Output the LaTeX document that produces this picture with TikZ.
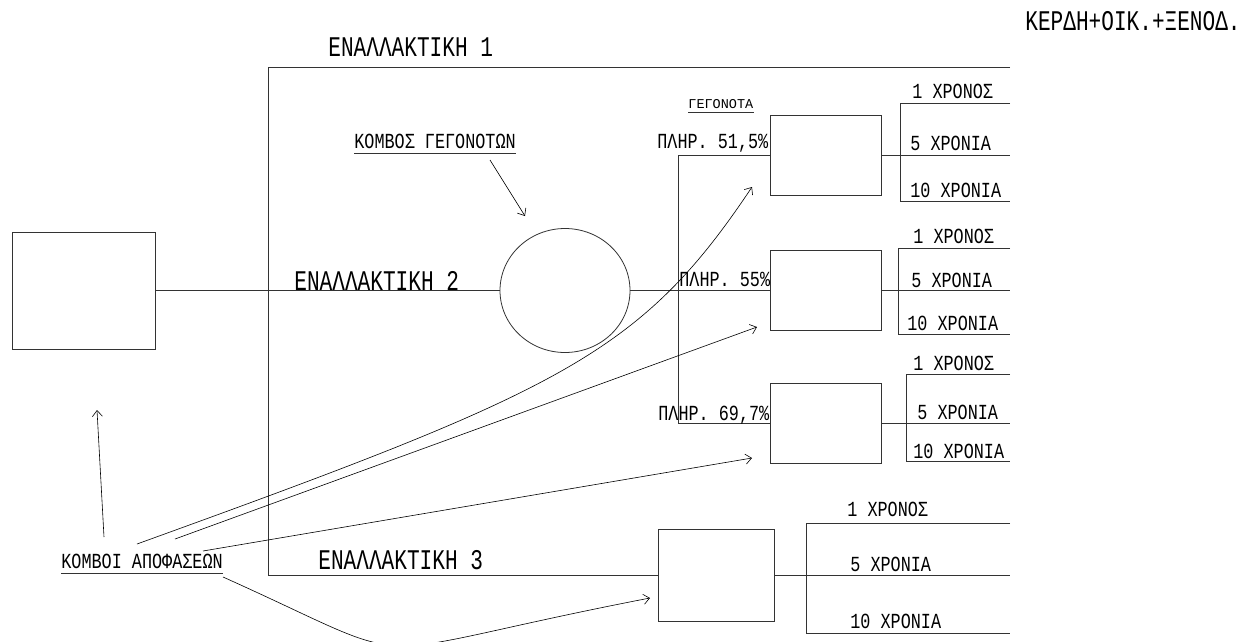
\documentclass[tikz,border=0pt]{standalone}
\usepackage{fontspec}
\setmainfont{Liberation Mono}
\usepackage{graphicx}
\usetikzlibrary{shapes.geometric,arrows.meta}
\newcommand{\tallB}[1]{\scalebox{1}[1.35]{\fontsize{21.1}{24}\selectfont #1}}
\newcommand{\tallM}[1]{\scalebox{1}[1.28]{\fontsize{16.8}{20}\selectfont #1}}
\begin{document}
\begin{tikzpicture}[x=1pt,y=-1pt,line width=0.8pt,
  box/.style={draw=black!80,rectangle,inner sep=0pt},
  lbl/.style={inner sep=0pt,anchor=base west},
  ln/.style={draw=black!80,line width=0.8pt},
  arr/.style={-{Straight Barb[length=6pt,width=10pt]},line width=0.6pt,black}]
\useasboundingbox (0,0) rectangle (1254,641);
% nodes
\node[box,minimum width=143pt,minimum height=117pt] (dec) at (83.5,290.5) {};
\node[draw=black!80,ellipse,inner sep=0pt,minimum width=130pt,minimum height=124pt] (ev) at (565,290.5) {};
\node[box,minimum width=111pt,minimum height=80pt] (b1) at (825.5,155) {};
\node[box,minimum width=111pt,minimum height=80pt] (b2) at (825.5,290.5) {};
\node[box,minimum width=111pt,minimum height=80pt] (b3) at (825.5,423) {};
\node[box,minimum width=116pt,minimum height=92pt] (b4) at (716,575) {};
% structural lines
\draw[ln] (dec.east) -- (ev.west);
\draw[ln] (ev.east) -- (b2.west);
\coordinate (fk) at (678,0);
\draw[ln] (b1.west) -- (b1.west -| fk) -- (b3.west -| fk) -- (b3.west);
\coordinate (a1) at (1010,67);
\coordinate (a0) at (268,67);
\draw[ln] (a1) -- (a0) -- (b4.west -| a0) -- (b4.west);
\foreach \b/\x/\t/\u in {b1/900/103/201, b2/898/248/334, b3/906/374/461, b4/806/523/633}{
  \draw[ln] (\b.east) -- (1010,0 |- \b.east);
  \draw[ln] (1010,\t) -- (\x,\t) -- (\x,\u) -- (1010,\u);
}
% labels
\node[lbl] (alt1) at (328,56) {\tallB{ΕΝΑΛΛΑΚΤΙΚΗ 1}};
\node[lbl] (alt2) at (294,290) {\tallB{ΕΝΑΛΛΑΚΤΙΚΗ 2}};
\node[lbl] (alt3) at (318,569) {\tallB{ΕΝΑΛΛΑΚΤΙΚΗ 3}};
\node[lbl] (hdr) at (1025,30) {\tallB{ΚΕΡΔΗ+ΟΙΚ.+ΞΕΝΟΔ.}};
\node[lbl] (kg) at (354,148) {\tallM{ΚΟΜΒΟΣ ΓΕΓΟΝΟΤΩΝ}};
\node[lbl] (ka) at (61,568) {\tallM{ΚΟΜΒΟΙ ΑΠΟΦΑΣΕΩΝ}};
\node[lbl,font=\fontsize{13.5}{15}\selectfont] (gg) at (688,108) {ΓΕΓΟΝΟΤΑ};
\draw[ln] ([yshift=-5.3pt]kg.base west) -- ([yshift=-5.3pt]kg.base east);
\draw[ln] ([yshift=-5.3pt]ka.base west) -- ([yshift=-5.3pt]ka.base east);
\draw[ln] ([yshift=-4.3pt]gg.base west) -- ([yshift=-4.3pt]gg.base east);
\node[lbl] (p1) at (657,148) {\tallM{ΠΛΗΡ. 51,5\%}};
\node[lbl] (p2) at (679,286) {\tallM{ΠΛΗΡ. 55\%}};
\node[lbl] (p3) at (658,420) {\tallM{ΠΛΗΡ. 69,7\%}};
\node[lbl] (o11) at (912,98) {\tallM{1 ΧΡΟΝΟΣ}};
\node[lbl] (o12) at (910,150.5) {\tallM{5 ΧΡΟΝΙΑ}};
\node[lbl] (o13) at (910,197) {\tallM{10 ΧΡΟΝΙΑ}};
\node[lbl] (o21) at (913,243) {\tallM{1 ΧΡΟΝΟΣ}};
\node[lbl] (o22) at (911,287) {\tallM{5 ΧΡΟΝΙΑ}};
\node[lbl] (o23) at (907,330) {\tallM{10 ΧΡΟΝΙΑ}};
\node[lbl] (o31) at (913,370) {\tallM{1 ΧΡΟΝΟΣ}};
\node[lbl] (o32) at (917,419) {\tallM{5 ΧΡΟΝΙΑ}};
\node[lbl] (o33) at (913,458) {\tallM{10 ΧΡΟΝΙΑ}};
\node[lbl] (o41) at (847,516) {\tallM{1 ΧΡΟΝΟΣ}};
\node[lbl] (o42) at (850,571) {\tallM{5 ΧΡΟΝΙΑ}};
\node[lbl] (o43) at (850,628) {\tallM{10 ΧΡΟΝΙΑ}};
% arrows
\coordinate (s5) at (490,160); \coordinate (e5) at (525,216);
\draw[arr] (s5) -- (e5);
\coordinate (s0) at (104,537); \coordinate (e0) at (97,410);
\draw[arr] (s0) -- (e0);
\coordinate (s1) at (137,544); \coordinate (e1) at (752,187);
\draw[arr] (s1) .. controls (560,391) and (640,355) .. (e1);
\coordinate (s2) at (175,539); \coordinate (e2) at (757,327);
\draw[arr] (s2) -- (e2);
\coordinate (s3) at (203,551); \coordinate (e3) at (752,458);
\draw[arr] (s3) -- (e3);
\coordinate (s4) at (223,577); \coordinate (e4) at (650,598);
\draw[arr] (s4) .. controls (435,672) and (340,658) .. (e4);
\end{tikzpicture}
\end{document}
